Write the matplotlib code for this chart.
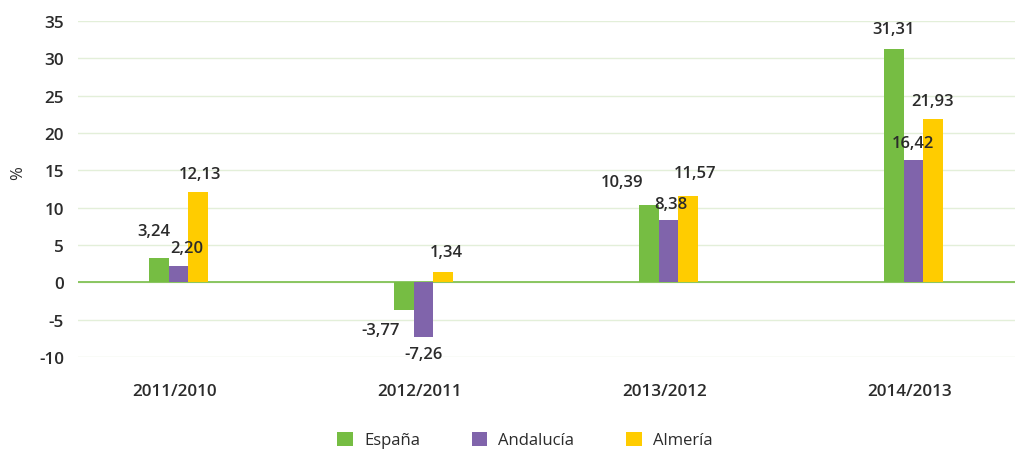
import matplotlib.pyplot as plt
import numpy as np

plt.rcParams['font.family'] = ['Open Sans', 'DejaVu Sans']
plt.rcParams['axes.unicode_minus'] = False

# data
periodos = ['2011/2010', '2012/2011', '2013/2012', '2014/2013']
espana = [3.24, -3.77, 10.39, 31.31]
andalucia = [2.20, -7.26, 8.38, 16.42]
almeria = [12.13, 1.34, 11.57, 21.93]
series_names = ['España', 'Andalucía', 'Almería']
yticks = [-10, -5, 0, 5, 10, 15, 20, 25, 30, 35]

# label nudges in pixels (dx, gap) so they sit like the original
label_nudge = [
    [(-5, 19), (-23, 12), (-27, 15), (0, 12)],
    [(8, 10), (0, 9), (2, 8), (0, 9)],
    [(2, 10), (3, 12), (7, 15), (0, 10)],
]

colors = ['#76bd43', '#8064ab', '#ffcc00']
text_color = '#2b2b2b'

fig = plt.figure(figsize=(10.21, 4.52), dpi=100)
ax = fig.add_axes([78 / 1021, 1 - 358 / 452, (1015 - 78) / 1021, (358 - 22) / 452])

x = np.arange(len(periodos))
w = 0.08
for i, (vals, name) in enumerate(zip([espana, andalucia, almeria], series_names)):
    pos = x + (i - 1) * w + 0.015
    ax.bar(pos, vals, width=w, color=colors[i], label=name, zorder=3)
    for j, (px, v) in enumerate(zip(pos, vals)):
        lab = f'{v:.2f}'.replace('.', ',')
        dx, gap = label_nudge[i][j]
        dy = gap if v >= 0 else -gap
        ax.annotate(lab, (px, v), xytext=(dx, dy), textcoords='offset pixels',
                    ha='center', va='bottom' if v >= 0 else 'top',
                    fontsize=12, fontweight='semibold', color=text_color, zorder=4)

ax.set_ylim(-10, 35)
ax.set_yticks(yticks)
ax.set_xlim(-0.396, 3.43)
ax.set_xticks(x)
ax.set_xticklabels(periodos)
ax.grid(axis='y', color='#e3efd9', linewidth=1, zorder=0)
ax.axhline(0, color='#82c256', linewidth=1.3, zorder=2)
for s in ax.spines.values():
    s.set_visible(False)
ax.tick_params(length=0, labelsize=12.3, labelcolor=text_color, pad=10)
for t in ax.get_xticklabels() + ax.get_yticklabels():
    t.set_fontweight('semibold')
ax.tick_params(axis='x', pad=19)
ax.set_ylabel('%', fontsize=12, color=text_color)
ax.yaxis.set_label_coords(-0.055, 0.55)

fig.legend(loc='center', bbox_to_anchor=(0.514, 1 - 441 / 452), ncol=3, frameon=False,
           handlelength=0.95, handleheight=0.95, handletextpad=0.65, columnspacing=3.1,
           fontsize=12, labelcolor=text_color)

fig.savefig('out.png', dpi=100)
